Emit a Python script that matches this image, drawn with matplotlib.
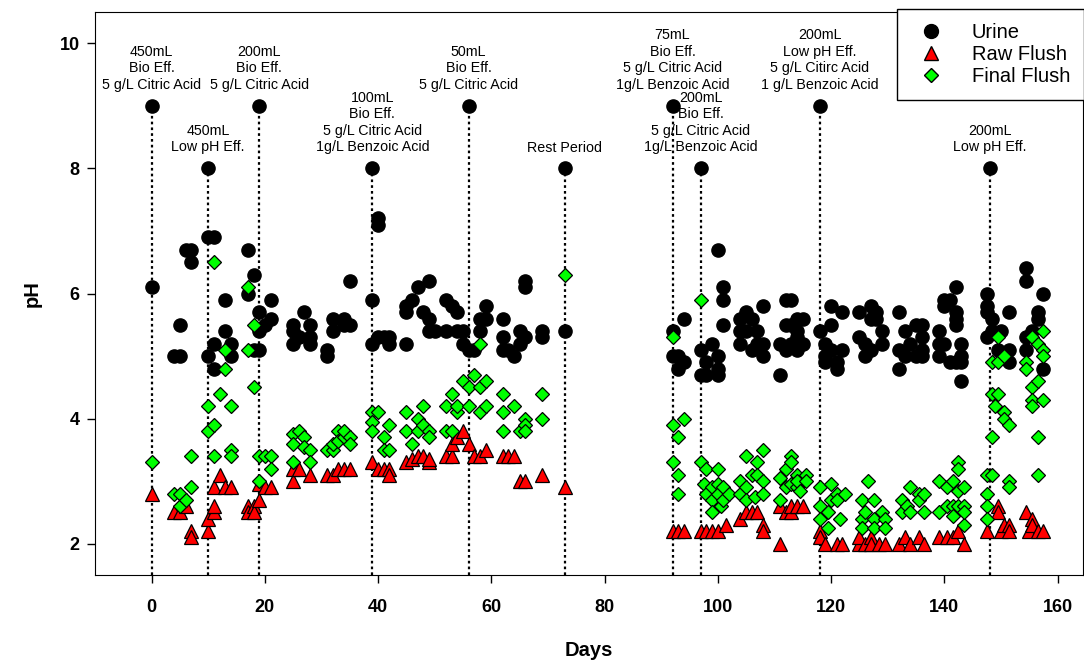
import matplotlib
matplotlib.use("Agg")
import matplotlib.pyplot as plt
from matplotlib.lines import Line2D

plt.rcParams['font.family'] = ['Liberation Sans', 'DejaVu Sans']

# (day, pH) readings
urine = [
    (0, 6.1), (4, 5.0), (5, 5.0), (5, 5.5), (6, 6.7), (7, 6.7), (7, 6.5),
    (10, 5.0), (10, 6.9), (11, 6.9), (11, 5.2), (11, 4.8), (13, 5.9), (13, 5.4),
    (14, 5.2), (14, 5.0), (17, 6.7), (17, 6.0), (18, 6.3), (18, 5.1), (19, 5.1),
    (19, 5.7), (19, 5.4), (20, 5.5), (21, 5.9), (21, 5.6),
    (25, 5.5), (25, 5.4), (25, 5.2), (26, 5.3), (27, 5.7), (28, 5.5), (28, 5.3),
    (28, 5.2), (31, 5.1), (31, 5.0), (32, 5.6), (32, 5.4), (34, 5.6), (34, 5.5),
    (35, 5.5), (35, 6.2),
    (39, 5.9), (39, 5.2), (40, 7.2), (40, 7.1), (40, 5.3), (41, 5.3), (42, 5.3),
    (42, 5.2), (45, 5.2), (45, 5.8), (45, 5.7), (46, 5.9), (47, 6.1), (48, 5.7),
    (49, 6.2), (49, 5.6), (49, 5.4), (50, 5.4), (52, 5.4), (52, 5.9), (53, 5.8),
    (54, 5.7), (54, 5.4),
    (55, 5.4), (55, 5.2), (56, 5.1), (57, 5.1), (58, 5.4), (58, 5.6), (59, 5.8),
    (59, 5.6), (62, 5.6), (62, 5.3), (62, 5.1), (63, 5.1), (64, 5.0), (65, 5.4),
    (65, 5.2), (66, 6.2), (66, 6.1), (66, 5.3), (69, 5.4), (69, 5.3), (73, 5.4),
    (92, 5.4), (92, 5.0), (93, 5.0), (93, 4.8), (94, 5.6), (94, 4.9),
    (97, 5.1), (97, 4.7), (98, 4.9), (98, 4.7), (99, 5.2), (100, 5.0), (100, 4.8),
    (100, 4.7), (100, 6.7), (101, 6.1), (101, 5.9), (101, 5.5),
    (104, 5.6), (104, 5.4), (104, 5.2), (105, 5.7), (105, 5.4), (106, 5.6),
    (106, 5.1), (107, 5.4), (107, 5.2), (108, 5.2), (108, 5.0), (108, 5.8),
    (111, 5.2), (111, 4.7), (112, 5.9), (112, 5.5), (112, 5.1), (113, 5.9),
    (113, 5.5), (113, 5.2), (114, 5.6), (114, 5.3), (114, 5.4), (114, 5.1),
    (115, 5.6), (115, 5.2),
    (118, 5.4), (119, 5.2), (119, 5.0), (119, 4.9), (120, 5.8), (120, 5.5),
    (120, 5.1), (121, 4.9), (121, 4.8), (122, 5.7), (122, 5.1),
    (125, 5.7), (125, 5.3), (126, 5.2), (126, 5.0), (127, 5.8), (127, 5.6),
    (127, 5.1), (128, 5.7), (128, 5.6), (129, 5.4), (129, 5.2),
    (132, 5.7), (132, 4.8), (132, 5.1), (133, 5.4), (133, 5.0), (134, 5.2),
    (135, 5.5), (135, 5.0), (136, 5.3), (136, 5.1), (136, 5.5), (136, 5.0),
    (139, 5.4), (139, 5.2), (139, 5.0), (140, 5.9), (140, 5.8), (140, 5.2),
    (141, 5.9), (141, 4.9), (142, 6.1), (142, 5.7), (142, 5.6), (142, 5.5),
    (142, 4.9), (143, 5.2), (143, 5.0), (143, 4.6), (143, 4.9),
    (147.5, 6.0), (147.5, 5.8), (147.5, 5.7), (147.5, 5.3), (148.5, 5.6),
    (148.5, 5.4), (149.5, 5.1), (150, 5.4), (151.5, 5.7), (151.5, 5.1),
    (151.5, 4.9), (154.5, 6.4), (154.5, 6.2), (154.5, 5.3), (154.5, 5.1),
    (155.5, 5.4), (156.5, 5.7), (156.5, 5.6), (157.5, 6.0), (157.5, 4.8),
]

raw_flush = [
    (0, 2.8), (4, 2.5), (5, 2.5), (6, 2.6), (7, 2.2), (7, 2.1), (10, 2.2),
    (10, 2.4), (11, 2.5), (11, 2.6), (11, 2.9), (12, 3.1), (13, 2.9), (14, 2.9),
    (17, 2.6), (17, 2.5), (18, 2.6), (18, 2.5), (19, 2.7), (19, 2.95), (20, 2.9),
    (21, 2.9),
    (25, 3.0), (25, 3.2), (26, 3.2), (28, 3.1), (31, 3.1), (32, 3.1), (33, 3.2),
    (34, 3.2), (35, 3.2),
    (39, 3.3), (40, 3.2), (41, 3.2), (42, 3.2), (42, 3.1), (45, 3.3), (46, 3.35),
    (47, 3.4), (48, 3.4), (49, 3.3), (49, 3.35), (52, 3.4), (53, 3.4), (53, 3.6),
    (54, 3.7), (55, 3.8), (56, 3.6), (57, 3.4), (58, 3.4), (59, 3.5), (62, 3.4),
    (63, 3.4), (64, 3.4), (65, 3.0), (66, 3.0), (69, 3.1), (73, 2.9),
    (92, 2.2), (93, 2.2), (94, 2.2), (97, 2.2), (98, 2.2), (99, 2.2), (100, 2.2),
    (101.5, 2.3), (104, 2.4), (105, 2.5), (106, 2.5), (107, 2.5), (108, 2.3),
    (108, 2.2), (111, 2.0), (111, 2.6), (112, 2.5), (113, 2.5), (113, 2.6),
    (114, 2.6), (115, 2.6),
    (118, 2.2), (118, 2.1), (119, 2.0), (121, 2.0), (122, 2.0), (125, 2.0),
    (125, 2.1), (126, 2.0), (127, 2.1), (127, 2.0), (128.5, 2.0), (129.5, 2.0),
    (132, 2.0), (133, 2.1), (134, 2.0), (135.5, 2.1), (136.5, 2.0),
    (139, 2.1), (140.5, 2.1), (141.5, 2.1), (142.5, 2.2), (143.5, 2.0),
    (147.5, 2.2), (149.5, 2.6), (149.5, 2.5), (150, 2.2), (150.5, 2.3),
    (151.5, 2.3), (151.5, 2.2), (154.5, 2.5), (155, 2.2), (155.5, 2.4),
    (155.5, 2.3), (156.5, 2.2), (157.5, 2.2),
]

final_flush = [
    (0, 3.3), (4, 2.8), (5, 2.8), (5, 2.6), (6, 2.7), (7, 2.9), (7, 3.4),
    (10, 3.8), (10, 4.2), (11, 3.9), (11, 3.4), (11, 6.5), (12, 4.4), (13, 4.8),
    (13, 5.1), (14, 4.2), (14, 3.5), (14, 3.4), (17, 6.1), (17, 5.1), (18, 5.5),
    (18, 4.5), (19, 3.4), (19, 3.0), (20, 3.4), (21, 3.4), (21, 3.2),
    (25, 3.75), (25, 3.6), (25, 3.3), (26, 3.8), (27, 3.7), (27, 3.55), (28, 3.5),
    (28, 3.3), (31, 3.5), (32, 3.5), (32, 3.6), (33, 3.8), (33, 3.65), (34, 3.7),
    (34, 3.8), (35, 3.7), (35, 3.6),
    (39, 4.1), (39, 3.95), (39, 3.8), (40, 4.1), (41, 3.7), (41, 3.5), (42, 3.9),
    (42, 3.5), (45, 4.1), (45, 3.8), (46, 3.6), (47, 4.0), (47, 3.8), (48, 4.2),
    (48, 3.9), (49, 3.8), (49, 3.7), (52, 4.2), (52, 3.8), (53, 4.4), (53, 3.8),
    (54, 4.1), (54, 4.2),
    (55, 4.6), (56, 4.5), (56, 4.2), (57, 4.7), (58, 4.5), (58, 4.1), (58, 5.2),
    (59, 4.6), (59, 4.2), (62, 4.4), (62, 4.1), (62, 3.8), (64, 4.2), (65, 3.8),
    (66, 4.0), (66, 3.9), (66, 3.8), (69, 4.4), (69, 4.0), (73, 6.3),
    (92, 5.3), (92, 3.9), (92, 3.3), (93, 3.7), (93, 3.1), (93, 2.8), (94, 4.0),
    (97, 5.9), (97, 3.3), (97.5, 2.95), (98, 3.2), (98, 2.8), (99, 2.9),
    (99, 2.7), (99, 2.5), (100, 3.2), (100, 2.95), (100, 2.8), (100.5, 2.6),
    (101, 2.9), (101, 2.7), (102, 2.8),
    (104, 3.0), (104, 2.8), (105, 3.4), (105, 2.9), (105, 2.7), (106, 3.1),
    (106.5, 2.75), (107, 3.3), (107, 3.1), (108, 3.5), (108, 3.0), (108, 2.8),
    (111, 3.05), (111, 2.7), (112, 3.2), (112, 2.9), (113, 3.4), (113, 3.3),
    (113, 2.95), (114, 3.1), (114, 2.9), (114, 3.0), (114.5, 2.85), (115.5, 3.1),
    (115.5, 3.0),
    (118, 2.9), (118, 2.6), (118, 2.4), (119.5, 2.5), (119.5, 2.25), (120, 2.95),
    (120, 2.7), (121, 2.8), (121, 2.7), (121.5, 2.4), (122.5, 2.8),
    (125.5, 2.7), (125.5, 2.4), (125.5, 2.25), (126.5, 3.0), (126, 2.5),
    (127.5, 2.7), (127.5, 2.4), (127.5, 2.25), (129, 2.5), (129.5, 2.4),
    (129.5, 2.25),
    (132.5, 2.7), (132.5, 2.5), (133.5, 2.6), (134, 2.9), (134, 2.5),
    (135.5, 2.8), (135.5, 2.7), (136.5, 2.8), (136.5, 2.5),
    (139, 3.0), (139, 2.5), (140.5, 2.9), (140.5, 2.6), (141.5, 3.0),
    (141.5, 2.6), (141.5, 2.45), (142.5, 3.3), (142.5, 3.2), (142.5, 2.85),
    (142.5, 2.6), (143.5, 2.9), (143.5, 2.6), (143.5, 2.3), (143.5, 2.5),
    (147.5, 3.1), (147.5, 2.8), (147.5, 2.6), (147.5, 2.4), (148.5, 4.9),
    (148.5, 4.4), (148.5, 3.7), (148.5, 3.1), (149.5, 5.3), (149.5, 4.9),
    (149.5, 4.4), (149, 4.2), (150.5, 5.0), (150.5, 4.1), (150.5, 4.0),
    (151.5, 3.9), (151.5, 3.0), (151.5, 2.9),
    (154.5, 4.9), (154.5, 4.8), (155.5, 5.3), (155.5, 4.5), (155.5, 4.3),
    (155.5, 4.2), (156.5, 5.2), (156.5, 4.6), (156.5, 3.7), (156.5, 3.1),
    (157.5, 5.4), (157.5, 5.1), (157.5, 5.0), (157.5, 4.3),
]

# dosing events: day, marker height, label
event_days = [0, 10, 19, 39, 56, 73, 92, 97, 118, 148]
event_ph = [9, 8, 9, 8, 9, 8, 9, 8, 9, 8]
event_labels = [
    "450mL\nBio Eff.\n5 g/L Citric Acid",
    "450mL\nLow pH Eff.",
    "200mL\nBio Eff.\n5 g/L Citric Acid",
    "100mL\nBio Eff.\n5 g/L Citric Acid\n1g/L Benzoic Acid",
    "50mL\nBio Eff.\n5 g/L Citric Acid",
    "Rest Period",
    "75mL\nBio Eff.\n5 g/L Citric Acid\n1g/L Benzoic Acid",
    "200mL\nBio Eff.\n5 g/L Citric Acid\n1g/L Benzoic Acid",
    "200mL\nLow pH Eff.\n5 g/L Citirc Acid\n1 g/L Benzoic Acid",
    "200mL\nLow pH Eff.",
]

fig = plt.figure(figsize=(10.84, 6.65), dpi=100)
ax = fig.add_axes([95 / 1084, 90 / 665, 988 / 1084, 563 / 665])
ax.set_xlim(-10, 164.5)
ax.set_ylim(1.5, 10.5)

for d, p, lab in zip(event_days, event_ph, event_labels):
    ax.plot([d, d], [1.5, p], color='black', lw=1.6, dashes=(1.2, 1.4), zorder=1)
    ax.plot(d, p, 'o', color='black', ms=9.5, zorder=2)
    ax.annotate(lab, (d, p), xytext=(0, 10), textcoords='offset points',
                ha='center', va='bottom', fontsize=10.3, linespacing=1.24)

ud, up = zip(*urine)
rd, rp = zip(*raw_flush)
fd, fp = zip(*final_flush)
ax.plot(ud, up, 'o', color='black', ms=9.5, ls='none', zorder=3)
ax.plot(rd, rp, '^', mfc='#ff0000', mec='black', mew=0.9, ms=10, ls='none', zorder=4)
ax.plot(fd, fp, 'D', mfc='#00ff00', mec='black', mew=0.9, ms=7, ls='none', zorder=5)

ax.set_xticks(range(0, 161, 20))
ax.set_yticks([2, 4, 6, 8, 10])
ax.tick_params(direction='out', length=6, width=1)
ax.tick_params(axis='x', pad=11)
ax.tick_params(axis='y', pad=5)
for t in ax.get_xticklabels() + ax.get_yticklabels():
    t.set_fontweight('bold')
    t.set_fontsize(13)
ax.set_xlabel('Days', fontsize=14.5, fontweight='bold', labelpad=18)
ax.set_ylabel('pH', fontsize=14.5, fontweight='bold', labelpad=13)

handles = [
    Line2D([], [], ls='none', marker='o', color='black', ms=10),
    Line2D([], [], ls='none', marker='^', mfc='#ff0000', mec='black', ms=10),
    Line2D([], [], ls='none', marker='D', mfc='#00ff00', mec='black', ms=7.5),
]
leg = fig.legend(handles, ['Urine', 'Raw Flush', 'Final Flush'],
                 loc='upper right', bbox_to_anchor=(1.0, 1 - 9 / 665),
                 bbox_transform=fig.transFigure, borderaxespad=0,
                 fontsize=14.5, frameon=True, fancybox=False, edgecolor='black',
                 framealpha=1, borderpad=0.7, labelspacing=0.15,
                 handlelength=2.0, handletextpad=1.0)
leg.get_frame().set_linewidth(1.0)

fig.savefig('out.png', dpi=100)
